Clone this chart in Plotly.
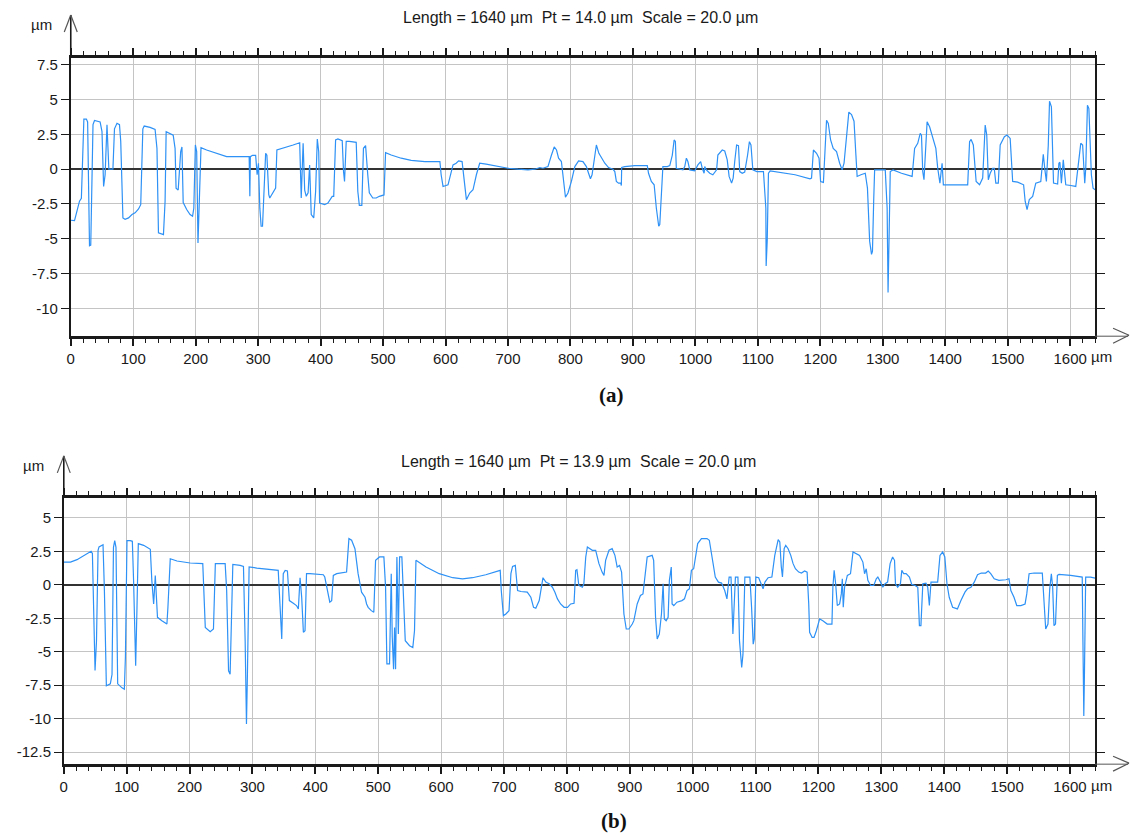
import plotly.graph_objects as go

# ---------------- data ----------------
# Profile (a)
a_x = [0, 6, 10, 14, 17, 21, 25, 27, 30, 32, 35.6, 38, 47, 50, 52.6, 55, 58, 59.6, 61, 67.5,
       70, 74, 78, 80, 83.5, 87, 92.5, 98, 103, 108.5, 112, 115.4, 117.6, 127, 135, 138, 140.4,
       148.4, 151, 152.7, 164, 167, 168.6, 172, 176, 178, 180, 185.6, 191, 195, 197, 199.5,
       201.6, 203.7, 206, 208.5, 217.5, 233.5, 249.5, 265, 285.6, 286.7, 287.5, 291, 296, 298.4,
       300.5, 302.7, 304.8, 307, 309, 312, 314, 317, 318.6, 325, 328, 330, 345, 356, 366.5, 369,
       372, 374.5, 377, 380, 382.4, 385, 389, 392, 394.7, 397, 398.4, 406.4, 411.7, 418.6, 421,
       424, 427.7, 434.6, 436.7, 438.3, 441, 446, 457, 459.6, 462, 466, 468.6, 472, 475.5, 478,
       483.5, 489, 494, 501.5, 504, 513, 529, 545, 567, 591, 593, 596, 604, 612, 617, 621, 626.5,
       629.7, 633.4, 638.7, 644, 649.4, 654.7, 665, 684, 700, 716, 732, 743, 751, 756, 764, 769.5,
       774, 777.7, 781, 785.5, 788, 792, 796, 801.5, 807, 813, 820, 825.5, 829, 832, 834.6, 838,
       841.5, 845.5, 850.6, 855, 861, 868, 871, 873.5, 877, 880.5, 881.5, 882, 887, 903, 923, 925,
       929.5, 934, 937.5, 941.3, 943, 945.6, 948, 955, 959, 963, 966, 968, 969.5, 980, 983, 985.6,
       988, 991, 999, 1004, 1008.5, 1011, 1014, 1015, 1017.6, 1023, 1028, 1034, 1036, 1043, 1047,
       1051, 1054, 1058, 1060.5, 1063, 1066, 1069, 1071, 1075, 1079, 1083.6, 1086.5, 1089, 1092,
       1098.4, 1109, 1112.8, 1113.3, 1115, 1117, 1119.7, 1138, 1159.6, 1183.5, 1186, 1189, 1194,
       1198, 1200.5, 1205, 1207, 1210, 1212.8, 1216.5, 1220.7, 1226, 1231, 1235, 1238, 1242,
       1245.7, 1250, 1254, 1257, 1259, 1265, 1272, 1275.5, 1279, 1282, 1283.5, 1285.6, 1287,
       1298, 1304, 1307, 1308.5, 1310, 1312, 1316.5, 1330, 1347, 1351, 1356, 1360, 1362, 1364,
       1366, 1368.6, 1371, 1375, 1380, 1385, 1388, 1391.5, 1395, 1397, 1409.6, 1436, 1439,
       1441.5, 1445, 1449.5, 1455, 1460, 1464, 1466.5, 1469, 1472, 1476, 1478.5, 1481, 1485,
       1488, 1494.7, 1499, 1504, 1508, 1516, 1525.5, 1528, 1531, 1534.6, 1540, 1545, 1553, 1557,
       1559.6, 1562, 1565, 1567, 1570, 1573.4, 1580, 1582, 1583.6, 1586, 1589, 1593, 1601, 1609,
       1613, 1617, 1620, 1623.4, 1625, 1627.7, 1630, 1634, 1636.7, 1640]
a_y = [-3.67, -3.7, -3.0, -2.3, -2.1, 3.6, 3.6, 3.4, -5.5, -5.45, 3.2, 3.5, 3.4, 2.7, -1.24, -0.4,
       3.2, 1.5, 0, 0, 2.9, 3.3, 3.2, 2.0, -3.5, -3.6, -3.5, -3.26, -3.14, -2.86, -2.55, 2.9, 3.1,
       3.0, 2.86, 1.5, -4.57, -4.7, -2.3, 2.7, 2.45, 1.5, -1.36, -1.5, 1.26, 1.6, -2.4, -2.9,
       -3.26, -3.38, -2.8, 1.74, 1.26, -5.3, -2.3, 1.55, 1.38, 1.14, 0.9, 0.9, 0.9, -1.95, 0.9,
       1.0, 1.0, -0.4, 0.43, -2.8, -4.1, -4.1, -2.07, 1.14, 1.0, -1.83, -2.07, -1.6, -1.36, 1.38,
       1.62, 1.74, 1.9, -2.07, 1.86, -1.5, -1.95, -1.7, 0.3, -3.26, -3.5, -1.6, 2.17, 1.26, -2.43,
       -2.55, -2.43, -1.95, -1.95, 2.1, 2.17, 2.05, -0.17, -0.88, 2.0, 2.0, 1.93, -1.6, -2.6, -2.6,
       1.5, 1.7, -0.4, -1.7, -2.07, -2.07, -1.95, -1.85, 1.19, 1.02, 0.79, 0.64, 0.55, 0.55, -0.4,
       -1.24, -1.12, 0.31, 0.43, 0.6, 0.55, -0.64, -2.19, -1.71, -1.48, -0.4, 0.43, 0.36, 0.19,
       0.07, 0, -0.05, 0, 0.12, 0.07, 0.19, 1.0, 1.6, 1.38, 0.79, 0.55, -0.52, -2.02, -1.71, -0.88,
       0.19, 0.6, 0.55, 0.19, -0.29, -0.69, -0.4, 0.79, 1.74, 1.14, 0.79, 0.43, 0.12, 0, -0.17,
       -0.88, -1.0, -1.0, -1.17, 0.12, 0.19, 0.26, 0.26, -0.29, -0.88, -1.12, -2.79, -4.1, -3.98,
       -1.48, 0.19, 0.19, 0.26, 1.0, 2.1, 2.0, 0.07, -0.05, 0.19, 0.79, 0.55, -0.05, -0.12, 0.31,
       0.55, 0.07, -0.29, 0.19, -0.05, -0.29, -0.4, -0.05, 1.02, 1.38, 1.31, 0.67, -0.52, -1.0,
       -0.64, 0.55, 1.74, 1.69, -0.17, -0.29, -0.2, 1.02, 1.98, 1.74, -0.05, -0.17, -0.17, -2.79,
       -6.95, -5.17, -0.29, -0.12, -0.24, -0.4, -0.69, -0.64, 1.38, 1.14, 0.79, -0.88, -0.95, 0.79,
       3.52, 3.29, 2.1, 1.5, 1.26, 0.43, -0.05, 0.43, 2.21, 4.1, 3.93, 3.45, 1.02, -0.52, -0.4,
       -0.29, -1.36, -5.17, -6.12, -5.9, -2.07, -0.05, -0.05, -0.05, -2.79, -8.86, -5.17, -0.17,
       -0.05, -0.29, -0.52, 1.5, 1.86, 2.57, 2.45, -0.17, -0.76, 1.98, 3.4, 3.05, 2.2, 1.5, 0.07,
       -1.0, 0.43, -1.12, -1.12, -1.12, 1.98, 2.14, 1.74, -0.88, -1.12, -0.64, 3.17, 2.45, -0.76,
       -0.29, 0.07, 0.07, -1.0, -1.0, 1.74, 2.33, 2.45, 2.21, -0.88, -0.93, -1.12, -2.3, -2.9,
       -2.19, -1.95, -1.0, -0.88, 1.07, -0.05, -0.88, 1.74, 4.88, 4.48, -1.0, -1.07, 0.43, 0.5,
       -1.0, 0.67, -1.12, -1.17, -1.24, 0.31, 1.86, 1.74, -1.0, 0.07, 4.6, 4.36, -0.4, -1.36, -1.48]

# Profile (b)
b_x = [0, 10.6, 21, 31.7, 43.4, 45.5, 47.6, 49.7, 52, 54.5, 56, 62.4, 64.6, 67.7, 74, 76.7, 79,
       81, 83, 85.7, 92.6, 96.3, 98, 100.5, 105.8, 109, 111, 114.3, 116.4, 118.5, 127, 137.6, 140,
       142.9, 145.5, 147, 149, 156, 164, 165.6, 169.3, 180, 201, 221, 225, 232.8, 238, 241, 256.6,
       259, 262, 264.5, 266, 268.8, 280.4, 285.7, 288.4, 290.5, 292, 294.7, 307, 328, 341, 344,
       346.6, 349, 352, 355.6, 358.7, 365, 370, 373, 375.7, 378.3, 381, 383.6, 386, 391.5, 412.7,
       415, 420.6, 423, 426, 428.6, 434, 447, 449.7, 453.4, 457.7, 463, 468, 473.5, 479, 481.5,
       484, 489, 493, 495.8, 502, 509, 511.7, 513.8, 518, 520.7, 522.3, 524.4, 526, 527.6, 529.7,
       532, 534, 537.6, 540, 543, 549.8, 555, 557.7, 560, 576, 597, 618.5, 634, 650, 671, 694,
       695.7, 699, 703, 708, 711, 713.6, 718, 721.6, 727, 737, 742.7, 747, 750.6, 756, 759.6, 762,
       766.5, 771.8, 777, 781, 785, 790, 795.6, 801, 806, 811.4, 814, 816, 819, 824.6, 827, 830,
       832.6, 840.5, 845.8, 851, 856, 859, 861.6, 867, 872, 876.4, 880, 883.8, 887, 890.7, 894.4,
       898.6, 904, 906.5, 911.8, 917, 921, 924, 927.7, 935.6, 938, 941, 943.6, 947, 950.4, 953,
       955, 957.8, 961, 963, 964.7, 966, 967.3, 970, 975, 983, 987, 991, 994.8, 998, 1001.6, 1004,
       1008, 1014, 1022.8, 1026.5, 1030.8, 1036, 1041, 1046, 1051, 1054.5, 1058, 1061, 1064,
       1065.6, 1068, 1072, 1074.5, 1078, 1080, 1083, 1091, 1093.7, 1096.3, 1098, 1100.5, 1105,
       1109.5, 1112, 1115, 1120, 1126, 1130.6, 1136, 1138.6, 1141, 1142.8, 1145.5, 1148, 1151.8,
       1156, 1159.7, 1163.4, 1168.7, 1173, 1178, 1182, 1184.6, 1186, 1190, 1193, 1196.7, 1202,
       1207, 1214, 1221.5, 1223, 1225, 1227.4, 1230, 1233.7, 1236.4, 1238, 1239.5, 1241.6, 1246,
       1251, 1255, 1260, 1265.4, 1270.7, 1273.4, 1276, 1278.6, 1283, 1288, 1292, 1294.5, 1298.7,
       1302.4, 1306, 1310, 1314, 1318, 1321, 1322.5, 1326, 1330.4, 1332.6, 1335.7, 1339.4, 1344.7,
       1348.4, 1353.7, 1358, 1360.6, 1363, 1366, 1371, 1373.8, 1376.4, 1379, 1389.6, 1393.3,
       1397.5, 1401, 1404.4, 1408, 1413.4, 1421, 1426.6, 1433, 1437, 1442.5, 1447.8, 1453, 1459,
       1466, 1470, 1474, 1479.5, 1487, 1498, 1503, 1506, 1511, 1515.4, 1522, 1528.6, 1531.3, 1535,
       1543, 1556, 1558.8, 1561.4, 1565, 1567.8, 1570.4, 1572.5, 1574.6, 1577, 1580, 1582.6, 1601,
       1619.5, 1620.6, 1622, 1623, 1625, 1632.8, 1640]
b_y = [1.7, 1.7, 1.88, 2.2, 2.5, 2.35, -2.9, -6.4, -4.2, 2.58, 2.83, 3.0, -0.42, -7.55, -7.4,
       -6.7, 2.8, 3.3, 2.8, -7.4, -7.7, -7.8, -5.4, 3.3, 3.3, 3.25, 0.3, -6.05, -1.7, 3.08, 2.95,
       2.65, 0.33, -1.43, 0.7, -0.93, -2.43, -2.68, -2.93, -1.68, 1.95, 1.78, 1.63, 1.58, -3.18,
       -3.5, -3.3, 1.58, 1.58, -0.43, -6.43, -6.68, -2.93, 1.53, 1.45, 1.38, -4.18, -10.4, -6.7,
       1.33, 1.25, 1.15, 1.08, -1.68, -4.05, 0.83, 1.08, 1.03, -1.18, -1.38, -1.55, -1.8, 0.53,
       -0.93, -3.55, -3.43, 0.83, 0.83, 0.75, 0.58, -0.93, -1.3, -1.18, 0.7, 0.83, 0.95, 0.95,
       3.45, 3.33, 2.7, 0.83, -0.55, -0.93, -1.43, -1.68, -1.93, -2.05, 1.83, 2.08, 2.08, -0.18,
       -5.9, -5.9, 0.83, -3.9, -6.3, -3.2, -6.3, 2.08, -3.68, 2.08, 2.08, -0.43, -4.18, -4.55,
       -4.68, -3.43, 1.83, 1.33, 0.83, 0.53, 0.45, 0.53, 0.75, 1.08, -0.43, -2.3, -2.18, -1.93,
       0.83, 1.38, 1.45, -0.43, -0.5, -0.55, -0.93, -1.68, -1.75, -1.18, 0.08, 0.53, 0.2, 0.08,
       -0.18, -0.55, -1.05, -1.43, -1.68, -1.68, -1.43, -1.38, 1.08, 1.13, -0.05, -0.18, 0.08,
       2.08, 2.83, 2.58, 2.58, 1.58, 0.95, 0.7, 1.83, 2.58, 2.7, 2.2, 1.33, 1.45, 0.95, -2.18,
       -3.3, -3.3, -2.93, -2.68, -1.43, -0.8, -0.68, 0.58, 2.08, 2.2, 1.83, -2.43, -4.05, -3.68,
       -2.18, 0.08, -2.55, -2.68, -2.43, 0.33, 1.2, 1.33, -1.43, -1.55, -1.3, -1.18, -1.05, -0.43,
       -0.3, 1.08, 1.2, 1.83, 3.08, 3.45, 3.45, 3.33, 1.95, 0.58, 0.2, 0.13, -0.43, -1.05, 0.58,
       0.58, -3.68, -1.8, 0.58, 0.58, -4.18, -6.18, -5.2, 0.58, 0.58, -1.68, -4.43, -4.05, 0.58,
       0.53, 0.08, -0.3, 0.2, 0.53, 0.58, 2.2, 3.38, 3.2, 1.33, 0.58, 2.7, 2.95, 2.7, 2.2, 1.58,
       1.2, 0.95, 0.88, 1.03, 0.95, -1.43, -3.55, -3.93, -3.93, -3.43, -2.55, -2.68, -2.93, -2.93,
       -0.18, 1.08, 0.08, -1.55, -1.43, -0.68, 0.45, -1.68, -0.18, 0.7, 0.83, 2.45, 2.33, 2.2, 1.7,
       0.83, 1.2, 0.33, -0.05, -0.05, 0.45, 0.58, 0.2, -0.18, 0.08, 0.2, 1.58, 2.08, 1.83, 0.08,
       -0.18, 0.08, 1.08, 0.83, 0.83, 0.58, 0.03, -0.05, -0.18, -3.05, -3.05, 0.08, 0.13, -0.18,
       -1.55, 0.2, 0.2, 2.2, 2.45, 2.08, 0.08, -0.93, -1.68, -1.8, -1.18, -0.55, -0.3, -0.18, 0.2,
       0.75, 0.88, 0.88, 1.03, 0.83, 0.45, 0.33, 0.38, 0.45, -0.43, -0.93, -1.55, -1.55, -1.43,
       -0.68, 0.83, 0.88, 0.88, -1.18, -3.3, -2.93, -0.3, 0.83, -0.18, -3.05, -2.93, 0.7, 0.78,
       0.7, 0.58, -4.18, -9.8, -6.68, 0.58, 0.58, 0.5]

x_ticks = [0, 100, 200, 300, 400, 500, 600, 700, 800, 900, 1000, 1100, 1200, 1300, 1400, 1500, 1600]
x_ticklabels = [str(v) for v in x_ticks]
a_yticks = [7.5, 5, 2.5, 0, -2.5, -5, -7.5, -10]
b_yticks = [5, 2.5, 0, -2.5, -5, -7.5, -10, -12.5]
a_range = [-12, 8]
b_range = [-13.4, 6.5]
x_range = [0, 1640]
a_title = "Length = 1640 µm  Pt = 14.0 µm  Scale = 20.0 µm"
b_title = "Length = 1640 µm  Pt = 13.9 µm  Scale = 20.0 µm"

# ---------------- figure ----------------
W, H = 1130, 834
FONT = "Liberation Sans, Arial, sans-serif"
INK = "#1a1a1a"
BLUE = "rgb(45,145,245)"
GRID = "#c4c4c4"


def px(x):
    return x / W


def py(y):
    return 1 - y / H


def fmt(v):
    return "%g" % v


fig = go.Figure()
fig.add_trace(go.Scatter(x=a_x, y=a_y, mode="lines", line=dict(color=BLUE, width=1.2),
                         xaxis="x", yaxis="y", showlegend=False, hoverinfo="skip"))
fig.add_trace(go.Scatter(x=b_x, y=b_y, mode="lines", line=dict(color=BLUE, width=1.2),
                         xaxis="x2", yaxis="y2", showlegend=False, hoverinfo="skip"))

xcommon = dict(range=x_range, showline=True, linecolor=INK, linewidth=2.5, mirror="ticks",
               ticks="outside", ticklen=7, tickwidth=1.5, tickcolor=INK,
               tickvals=x_ticks, ticktext=x_ticklabels,
               minor=dict(dtick=20, tick0=0, ticks="outside", ticklen=4, tickwidth=1.2,
                          tickcolor=INK, showgrid=False),
               showgrid=True, gridcolor=GRID, gridwidth=1.3, zeroline=False,
               tickfont=dict(family=FONT, size=15, color=INK), fixedrange=True)
ycommon = dict(showline=True, linecolor=INK, linewidth=1.6, mirror="ticks",
               ticks="outside", ticklen=8, tickwidth=1.3, tickcolor=INK,
               showgrid=True, gridcolor=GRID, gridwidth=1.3,
               zeroline=True, zerolinecolor="#333333", zerolinewidth=1.8,
               tickfont=dict(family=FONT, size=15, color=INK), fixedrange=True)

fig.update_layout(
    width=W, height=H, margin=dict(l=0, r=0, t=0, b=0),
    paper_bgcolor="white", plot_bgcolor="white",
    xaxis=dict(domain=[px(67), px(1095)], anchor="y", **xcommon),
    yaxis=dict(domain=[py(335), py(56)], anchor="x", range=a_range,
               tickvals=a_yticks, ticktext=[fmt(v) for v in a_yticks], **ycommon),
    xaxis2=dict(domain=[px(60), px(1095)], anchor="y2", **xcommon),
    yaxis2=dict(domain=[py(764), py(497)], anchor="x2", range=b_range,
                tickvals=b_yticks, ticktext=[fmt(v) for v in b_yticks], **ycommon),
)

shapes = []
anns = []
# axis arrows (decoration)
for (x0, ytop, ybot, yarrow) in [(67, 56, 335, 13), (60, 497, 764, 455)]:
    shapes.append(dict(type="line", xref="paper", yref="paper", x0=px(x0), x1=px(x0),
                       y0=py(ytop), y1=py(yarrow), line=dict(color=INK, width=1.6)))
    shapes.append(dict(type="line", xref="paper", yref="paper", x0=px(x0 - 6.5), x1=px(x0),
                       y0=py(yarrow + 17), y1=py(yarrow), line=dict(color="#555", width=1.2)))
    shapes.append(dict(type="line", xref="paper", yref="paper", x0=px(x0 + 6.5), x1=px(x0),
                       y0=py(yarrow + 17), y1=py(yarrow), line=dict(color="#555", width=1.2)))
    shapes.append(dict(type="line", xref="paper", yref="paper", x0=px(1095), x1=px(1128),
                       y0=py(ybot), y1=py(ybot), line=dict(color="#555", width=1)))
    shapes.append(dict(type="line", xref="paper", yref="paper", x0=px(1113), x1=px(1129),
                       y0=py(ybot - 8), y1=py(ybot - 1), line=dict(color="#555", width=1.2)))
    shapes.append(dict(type="line", xref="paper", yref="paper", x0=px(1113), x1=px(1129),
                       y0=py(ybot + 7), y1=py(ybot - 1), line=dict(color="#555", width=1.2)))

# unit labels
for (x, y) in [(38, 23), (30, 465)]:
    anns.append(dict(text="µm", x=px(x), y=py(y), xref="paper", yref="paper", showarrow=False,
                     xanchor="center", yanchor="middle", font=dict(family=FONT, size=15, color=INK)))
for y in [355, 785]:
    anns.append(dict(text="µm", x=px(1089), y=py(y), xref="paper", yref="paper", showarrow=False,
                     xanchor="left", yanchor="middle", font=dict(family=FONT, size=15, color=INK)))

# titles
anns.append(dict(text=a_title, x=px(579), y=py(16), xref="paper", yref="paper", showarrow=False,
                 xanchor="center", yanchor="middle", font=dict(family=FONT, size=16, color=INK)))
anns.append(dict(text=b_title, x=px(577), y=py(461), xref="paper", yref="paper", showarrow=False,
                 xanchor="center", yanchor="middle", font=dict(family=FONT, size=16, color=INK)))
# panel labels
anns.append(dict(text="<b>(a)</b>", x=px(610), y=py(394), xref="paper", yref="paper", showarrow=False,
                 xanchor="center", yanchor="middle",
                 font=dict(family="Liberation Serif, Times New Roman, serif", size=21, color="#111")))
anns.append(dict(text="<b>(b)</b>", x=px(612), y=py(821), xref="paper", yref="paper", showarrow=False,
                 xanchor="center", yanchor="middle",
                 font=dict(family="Liberation Serif, Times New Roman, serif", size=21, color="#111")))

fig.update_layout(shapes=shapes, annotations=anns)
fig.write_html("out.html", config={"displayModeBar": False},
               post_script="document.body.style.margin='0';document.body.style.padding='0';")
